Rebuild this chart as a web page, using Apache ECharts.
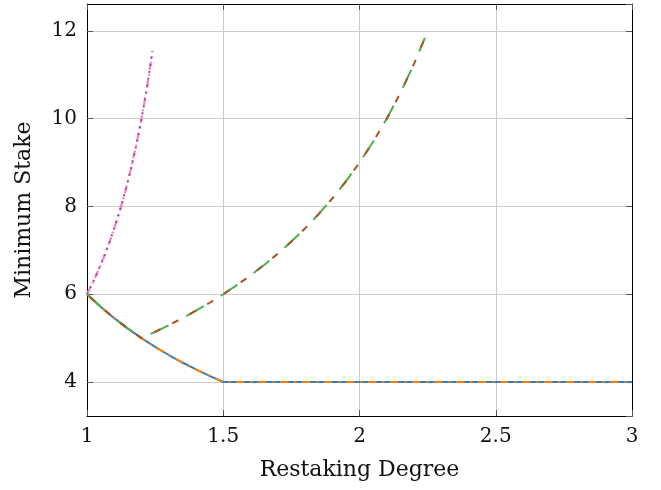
<!DOCTYPE html>
<html>
<head>
<meta charset="utf-8">
<script src="https://cdn.jsdelivr.net/npm/echarts@6/dist/echarts.min.js"></script>
<style>
html,body{margin:0;padding:0;background:#fff;}
#chart{width:661px;height:490px;}
</style>
</head>
<body>
<div id="chart"></div>
<script>
// Data
const xTicks = [1, 1.5, 2, 2.5, 3];
const yTicks = [4, 6, 8, 10, 12];

const xA = [1, 1.05, 1.1, 1.15, 1.2, 1.25, 1.3, 1.35, 1.4, 1.45, 1.5, 2, 2.5, 3];
const yA = [6, 5.714, 5.455, 5.217, 5.0, 4.8, 4.615, 4.444, 4.286, 4.138, 4.0, 4, 4, 4];

const xB = [1, 1.05, 1.1, 1.15, 1.2, 1.25, 1.3, 1.35, 1.4, 1.45, 1.5, 1.55, 1.6, 1.65, 1.7, 1.75, 1.8, 1.85, 1.9, 1.95, 2.0, 2.05, 2.1, 2.15, 2.2, 2.24];
const yB = [6, 5.714, 5.455, 5.217, 5.0, 5.143, 5.294, 5.455, 5.625, 5.806, 6.0, 6.207, 6.429, 6.667, 6.923, 7.2, 7.5, 7.826, 8.182, 8.571, 9.0, 9.474, 10.0, 10.588, 11.25, 11.842];

const xC = [1, 1.02, 1.04, 1.06, 1.08, 1.1, 1.12, 1.14, 1.16, 1.18, 1.2, 1.21, 1.22, 1.23, 1.24];
const yC = [6, 6.25, 6.522, 6.818, 7.143, 7.5, 7.895, 8.333, 8.824, 9.375, 10.0, 10.345, 10.714, 11.111, 11.538];

const seriesNames = ['blue', 'orange', 'green', 'brown', 'pink', 'purple'];

function zip(xs, ys) { return xs.map((x, i) => [x, ys[i]]); }

const FONT = 'DejaVu Serif';
const chart = echarts.init(document.getElementById('chart'), null, {renderer: 'canvas'});

function ls(color, type, width) {
  return {color: color, type: type, width: width || 2, cap: 'butt'};
}

const option = {
  animation: false,
  backgroundColor: '#fff',
  grid: {left: 87, right: 29, top: 4, bottom: 74, containLabel: false},
  xAxis: [{
    type: 'value', min: 1, max: 3, interval: 0.5, position: 'bottom',
    name: 'Restaking Degree', nameLocation: 'middle', nameGap: 43,
    nameTextStyle: {fontFamily: FONT, fontSize: 22, color: '#111'},
    axisLine: {show: true, onZero: false, lineStyle: {color: '#000', width: 1}},
    axisTick: {show: true, inside: true, length: 6, lineStyle: {color: '#555'}},
    axisLabel: {fontFamily: FONT, fontSize: 20, color: '#111', margin: 11,
      formatter: v => xTicks.some(t => Math.abs(t - v) < 1e-6) ? String(v) : ''},
    splitLine: {show: true, lineStyle: {color: '#cccccc', width: 1}}
  }, {
    type: 'value', min: 1, max: 3, interval: 0.5, position: 'top',
    axisLine: {show: true, onZero: false, lineStyle: {color: '#000', width: 1}},
    axisTick: {show: true, inside: true, length: 6, lineStyle: {color: '#555'}},
    axisLabel: {show: false}, splitLine: {show: false}
  }],
  yAxis: [{
    type: 'value', min: 3.225, max: 12.615, splitNumber: 5, position: 'left',
    name: 'Minimum Stake', nameLocation: 'middle', nameGap: 52, nameRotate: 90,
    nameTextStyle: {fontFamily: FONT, fontSize: 22, color: '#111'},
    axisLine: {show: true, onZero: false, lineStyle: {color: '#000', width: 1}},
    axisTick: {show: true, inside: true, length: 6, lineStyle: {color: '#555'}},
    axisLabel: {fontFamily: FONT, fontSize: 20, color: '#111', margin: 10,
      showMinLabel: false, showMaxLabel: false,
      formatter: v => yTicks.some(t => Math.abs(t - v) < 1e-6) ? String(v) : ''},
    splitLine: {show: true, lineStyle: {color: '#cccccc', width: 1}}
  }, {
    type: 'value', min: 3.225, max: 12.615, splitNumber: 5, position: 'right',
    axisLine: {show: true, onZero: false, lineStyle: {color: '#000', width: 1}},
    axisTick: {show: true, inside: true, length: 6, lineStyle: {color: '#555'}},
    axisLabel: {show: false}, splitLine: {show: false}
  }],
  series: [
    {name: seriesNames[0], type: 'line', data: zip(xA, yA), showSymbol: false, symbol: 'none',
      lineStyle: ls('#377eb8', 'solid'), z: 2},
    {name: seriesNames[1], type: 'line', data: zip(xA, yA), showSymbol: false, symbol: 'none',
      lineStyle: ls('#ff7f00', [8, 6, 2, 6]), z: 3},
    {name: seriesNames[2], type: 'line', data: zip(xB, yB), showSymbol: false, symbol: 'none',
      lineStyle: ls('#4daf4a', [20, 20]), z: 4},
    {name: seriesNames[3], type: 'line', data: zip(xB, yB), showSymbol: false, symbol: 'none',
      lineStyle: Object.assign(ls('#a65628', [7, 13]), {dashOffset: -4}), z: 5},
    {name: seriesNames[4], type: 'line', data: zip(xC, yC), showSymbol: false, symbol: 'none',
      lineStyle: ls('#f781bf', [8, 4, 2, 4], 2.2), z: 6},
    {name: seriesNames[5], type: 'line', data: zip(xC, yC), showSymbol: false, symbol: 'none',
      lineStyle: ls('#984ea3', [2, 5]), z: 7}
  ]
};
chart.setOption(option);
</script>
</body>
</html>
